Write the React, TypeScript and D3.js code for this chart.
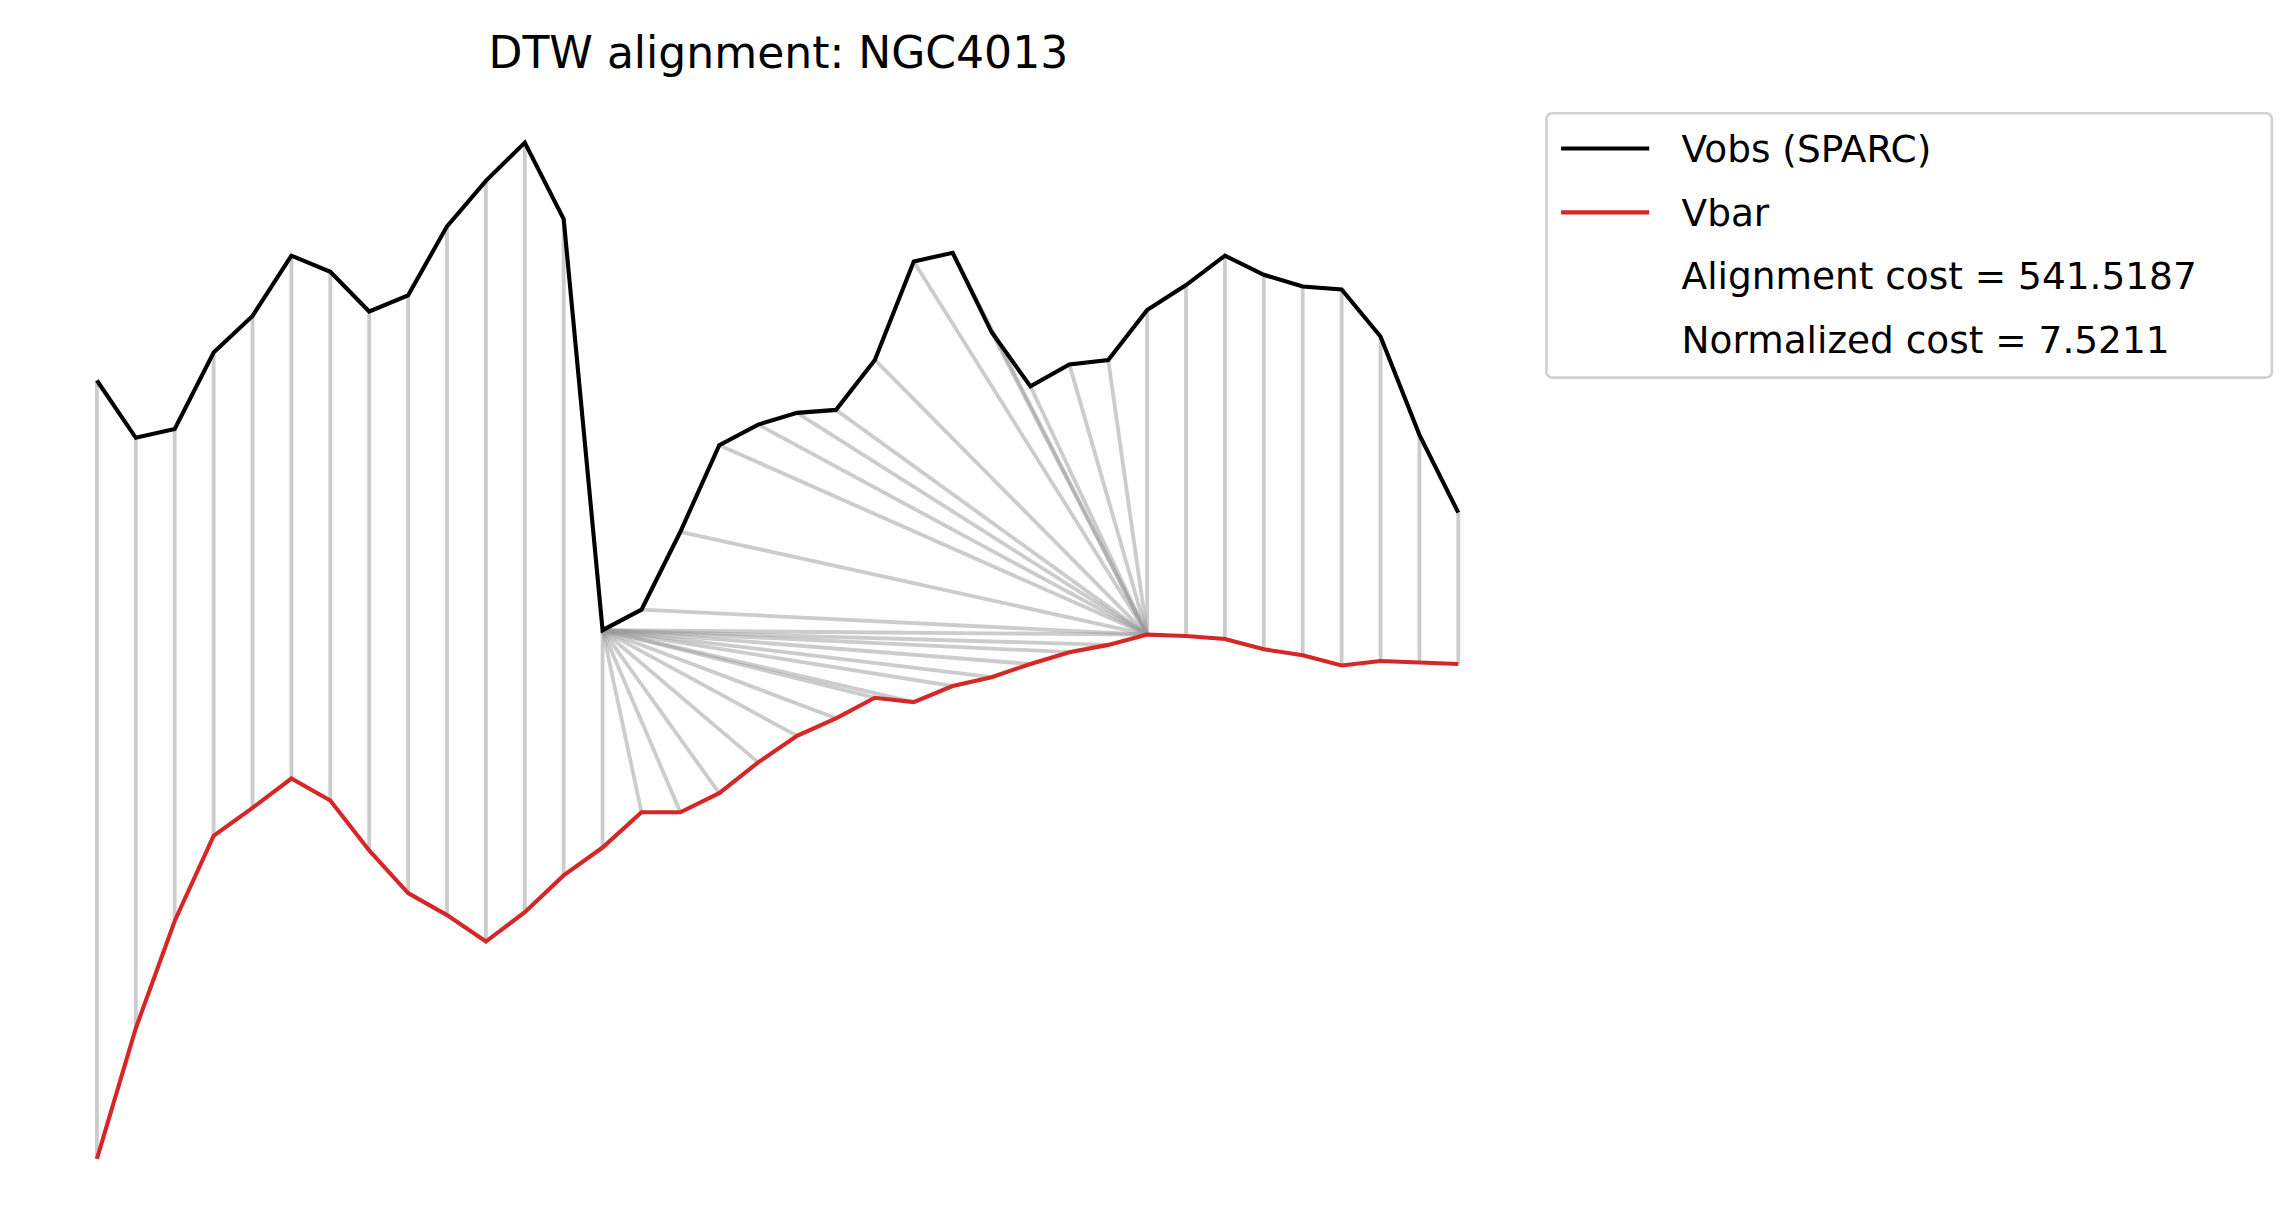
import React from 'react';
import * as d3 from 'd3';

// series (arbitrary offset units; Vobs drawn shifted above Vbar)
const vobs = [541, 502, 508, 560, 585, 626, 615, 588, 599, 646, 677, 703, 651, 371, 385, 438, 497, 511, 519, 521, 555, 622, 628, 574, 537, 552, 555, 589, 606, 626, 613, 605, 603, 571, 504, 451];
const vbar = [11, 100, 173, 231, 250, 270, 255, 221, 192, 177, 159, 179, 204, 223, 247, 247, 260, 281, 299, 311, 325, 322, 333, 339, 348, 356, 361, 368, 367, 365, 358, 354, 347, 350, 349, 348];

// DTW warping path: [index in Vobs, index in Vbar]
const pathPairs: [number, number][] = [];
for (let k = 0; k <= 13; k++) pathPairs.push([k, k]);
for (let j = 14; j <= 27; j++) pathPairs.push([13, j]);
for (let i = 14; i <= 27; i++) pathPairs.push([i, 27]);
for (let k = 28; k <= 35; k++) pathPairs.push([k, k]);

const legendItems = [
  { label: 'Vobs (SPARC)', color: '#000000' },
  { label: 'Vbar', color: '#d62728' },
  { label: 'Alignment cost = 541.5187', color: null },
  { label: 'Normalized cost = 7.5211', color: null },
];

export default function App() {
  const x = d3.scaleLinear().domain([0, vobs.length - 1]).range([66, 993]);
  const y = d3.scaleLinear().domain([0, 800]).range([800, 0]);
  const line = d3.line<number>().x((_, i) => x(i)).y(d => y(d));
  const font = '"DejaVu Sans", sans-serif';

  return (
    <svg width={2291} height={1231} viewBox="0 0 1560 838"
      style={{ position: 'absolute', left: 0, top: 0, display: 'block' }}>
      <rect width={1560} height={838} fill="#fff" />
      <text x={530} y={46} textAnchor="middle" fontFamily={font} fontSize={30}>DTW alignment: NGC4013</text>
      {pathPairs.map(([i, j], k) => (
        <line key={k} x1={x(i)} y1={y(vobs[i])} x2={x(j)} y2={y(vbar[j])}
          stroke="#999" strokeOpacity={0.5} strokeWidth={2.6} />
      ))}
      <path d={line(vobs) || ''} fill="none" stroke="#000" strokeWidth={2.8} />
      <path d={line(vbar) || ''} fill="none" stroke="#d62728" strokeWidth={2.8} />
      <rect x={1053} y={77} width={494} height={180} rx={4} fill="#fff" stroke="#d0d0d0" strokeWidth={1.8} />
      {legendItems.map((it, i) => (
        <g key={i} transform={`translate(0, ${101 + i * 43.5})`}>
          {it.color && <line x1={1063} x2={1123} y1={0} y2={0} stroke={it.color} strokeWidth={2.8} />}
          <text x={1145} y={9} fontFamily={font} fontSize={25.5}>{it.label}</text>
        </g>
      ))}
    </svg>
  );
}
